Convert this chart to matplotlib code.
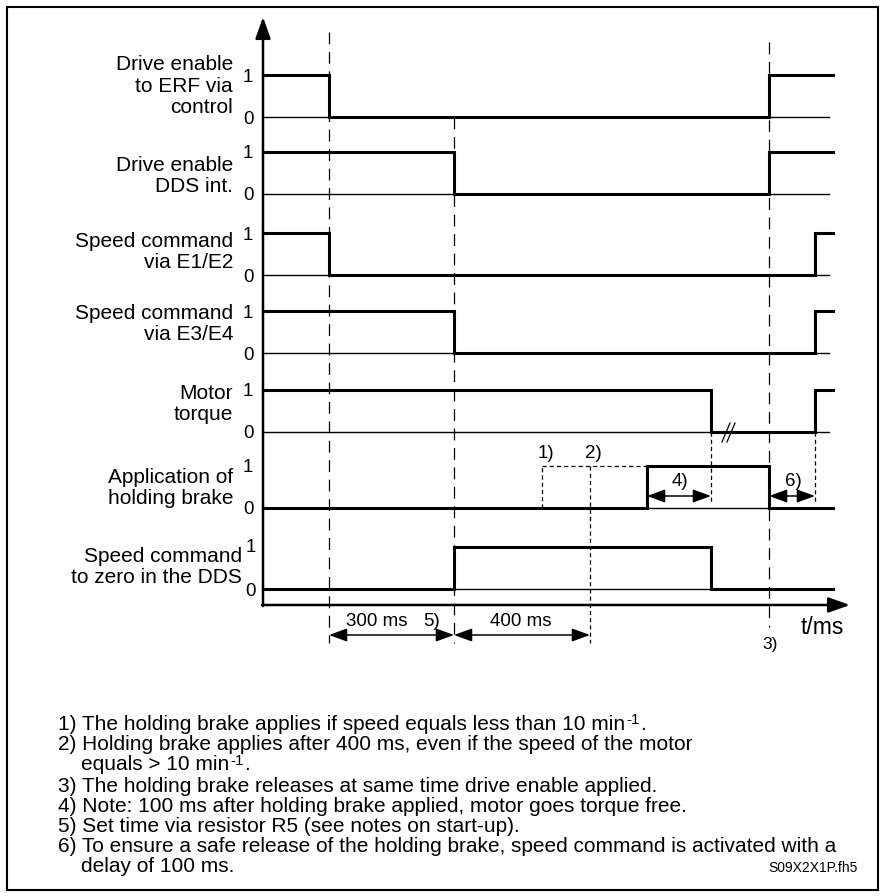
import matplotlib
matplotlib.use("Agg")
import matplotlib.pyplot as plt
from matplotlib.patches import Rectangle

plt.rcParams['font.family'] = ['Liberation Sans', 'DejaVu Sans']
plt.rcParams['lines.scale_dashes'] = False

# schematic time positions of the events (drawing units, 0 = vertical axis)
T_END = 570
T_ENABLE_OFF = 66
T_DDS_OFF = 191
T_NOTE1 = 279
T_NOTE2 = 327
T_BRAKE_ON = 384
T_TORQUE_OFF = 448
T_ENABLE_ON = 506
T_SPEED_ON = 552

row_labels = [
    "Drive enable\nto ERF via\ncontrol",
    "Drive enable\nDDS int.",
    "Speed command\nvia E1/E2",
    "Speed command\nvia E3/E4",
    "Motor\ntorque",
    "Application of\nholding brake",
    "Speed command\nto zero in the DDS",
]

# step signals: edge times and the level held after each edge
edges = [
    [0, T_ENABLE_OFF, T_ENABLE_ON, T_END],
    [0, T_DDS_OFF, T_ENABLE_ON, T_END],
    [0, T_ENABLE_OFF, T_SPEED_ON, T_END],
    [0, T_DDS_OFF, T_SPEED_ON, T_END],
    [0, T_TORQUE_OFF, T_SPEED_ON, T_END],
    [0, T_BRAKE_ON, T_ENABLE_ON, T_END],
    [0, T_DDS_OFF, T_TORQUE_OFF, T_END],
]
levels = [
    [1, 0, 1],
    [1, 0, 1],
    [1, 0, 1],
    [1, 0, 1],
    [1, 0, 1],
    [0, 1, 0],
    [0, 1, 0],
]

# footnote text, optional superscript
footnotes = [
    ("1) The holding brake applies if speed equals less than 10 min", "-1", "."),
    ("2) Holding brake applies after 400 ms, even if the speed of the motor", "", ""),
    ("    equals > 10 min", "-1", "."),
    ("3) The holding brake releases at same time drive enable applied.", "", ""),
    ("4) Note: 100 ms after holding brake applied, motor goes torque free.", "", ""),
    ("5) Set time via resistor R5 (see notes on start-up).", "", ""),
    ("6) To ensure a safe release of the holding brake, speed command is activated with a", "", ""),
    ("    delay of 100 ms.", "", ""),
]

# layout (pixels)
X0 = 263
ZERO_Y = [117, 194, 275, 353, 432, 508, 589]
HIGH = 42
LABEL_Y = [86, 176, 252, 324, 404, 488, 567]
AXIS_Y = 605
DIM_Y = 635
FOOT_Y = [724, 745, 765, 786, 806, 826, 847, 867]
LONG_DASH = (0, (8.5, 5.5))
SHORT_DASH = (0, (3.0, 2.2))


def x(t):
    return X0 + t


def lvl(row, v):
    return ZERO_Y[row] - HIGH * v


fig = plt.figure(figsize=(8.84, 8.96), dpi=100)
ax = fig.add_axes([0, 0, 1, 1])
ax.set_xlim(0, 884)
ax.set_ylim(896, 0)
ax.axis('off')

ax.add_patch(Rectangle((7, 7), 871, 883, fill=False, lw=1.5, ec='black'))

for i in range(7):
    # thin zero line
    ax.plot([x(0), x(T_END - 4)], [ZERO_Y[i], ZERO_Y[i]], color='black', lw=1.0)
    xs, ys = [], []
    for k, v in enumerate(levels[i]):
        xs += [x(edges[i][k]), x(edges[i][k + 1])]
        ys += [lvl(i, v), lvl(i, v)]
    ax.plot(xs, ys, color='black', lw=2.2, solid_joinstyle='miter')
    lab_x = 233 if i < 6 else 242
    ax.text(lab_x, LABEL_Y[i], row_labels[i], ha='right', va='center',
            fontsize=15, linespacing=1.17)
    tx = 248 if i < 6 else 251
    ax.text(tx, lvl(i, 1) + (2 if i < 6 else 0), "1", ha='center', va='center', fontsize=13.5)
    ax.text(tx, ZERO_Y[i] + 2, "0", ha='center', va='center', fontsize=13.5)

# axes with arrow heads
head = '-|>,head_length=0.65,head_width=0.23'
ax.annotate('', xy=(X0, 17), xytext=(X0, AXIS_Y + 1),
            arrowprops=dict(arrowstyle=head, mutation_scale=20, lw=1.8,
                            color='black', shrinkA=0, shrinkB=0))
ax.annotate('', xy=(850, AXIS_Y), xytext=(X0 - 1, AXIS_Y),
            arrowprops=dict(arrowstyle=head, mutation_scale=20, lw=1.8,
                            color='black', shrinkA=0, shrinkB=0))

# long dashed event markers
ax.plot([x(T_ENABLE_OFF)] * 2, [32, 643], color='black', lw=0.9, ls=LONG_DASH)
ax.plot([x(T_DDS_OFF)] * 2, [ZERO_Y[0], 643], color='black', lw=0.9, ls=LONG_DASH)
ax.plot([x(T_ENABLE_ON)] * 2, [42, 627], color='black', lw=0.9, ls=LONG_DASH)

# short dashed helper lines
ax.plot([x(T_NOTE1)] * 2, [ZERO_Y[5], lvl(5, 1)], color='black', lw=0.9, ls=SHORT_DASH)
ax.plot([x(T_NOTE1), x(T_BRAKE_ON)], [lvl(5, 1)] * 2, color='black', lw=0.9, ls=SHORT_DASH)
ax.plot([x(T_NOTE2)] * 2, [lvl(5, 1), 643], color='black', lw=0.9, ls=SHORT_DASH)
ax.plot([x(T_TORQUE_OFF)] * 2, [ZERO_Y[4], 502], color='black', lw=0.9, ls=SHORT_DASH)
ax.plot([x(T_SPEED_ON)] * 2, [ZERO_Y[4], 502], color='black', lw=0.9, ls=SHORT_DASH)

# break mark on motor torque
for dx in (0, 5):
    ax.plot([x(T_TORQUE_OFF) + 11 + dx, x(T_TORQUE_OFF) + 19 + dx],
            [ZERO_Y[4] + 10, ZERO_Y[4] - 9], color='black', lw=0.9)


def dim(t0, t1, y):
    ax.annotate('', xy=(x(t1), y), xytext=(x(t0), y),
                arrowprops=dict(arrowstyle='<|-|>,head_length=0.55,head_width=0.2',
                                mutation_scale=20, lw=1.1, color='black',
                                shrinkA=0, shrinkB=0))


dim(T_BRAKE_ON, T_TORQUE_OFF, 496)
dim(T_ENABLE_ON, T_SPEED_ON, 496)
dim(T_ENABLE_OFF, T_DDS_OFF, DIM_Y)
dim(T_DDS_OFF, T_NOTE2, DIM_Y)

ax.text(x(T_NOTE1) + 4, 453, "1)", ha='center', va='center', fontsize=13.5)
ax.text(x(T_NOTE2) + 3, 453, "2)", ha='center', va='center', fontsize=13.5)
ax.text((x(T_BRAKE_ON) + x(T_TORQUE_OFF)) / 2 + 1, 482, "4)", ha='center', va='center', fontsize=13.5)
ax.text((x(T_ENABLE_ON) + x(T_SPEED_ON)) / 2 + 1, 482, "6)", ha='center', va='center', fontsize=13.5)
ax.text(377, 622, "300 ms", ha='center', va='center', fontsize=13.5)
ax.text(432, 622, "5)", ha='center', va='center', fontsize=13.5)
ax.text((x(T_DDS_OFF) + x(T_NOTE2)) / 2 - 1, 622, "400 ms", ha='center', va='center', fontsize=13.5)
ax.text(822, 628, "t/ms", ha='center', va='center', fontsize=16.5)
ax.text(x(T_ENABLE_ON) + 1, 645, "3)", ha='center', va='center', fontsize=12.5)

fig.canvas.draw()
renderer = fig.canvas.get_renderer()
inv = ax.transData.inverted()
for (main, sup, tail), yy in zip(footnotes, FOOT_Y):
    t = ax.text(58, yy, main, ha='left', va='center', fontsize=15)
    if sup:
        bb = t.get_window_extent(renderer)
        x_end = inv.transform((bb.x1, bb.y0))[0]
        s = ax.text(x_end + 1, yy - 4, sup, ha='left', va='center', fontsize=11)
        bb2 = s.get_window_extent(renderer)
        x_end2 = inv.transform((bb2.x1, bb2.y0))[0]
        ax.text(x_end2, yy, tail, ha='left', va='center', fontsize=15)
ax.text(858, 868, "S09X2X1P.fh5", ha='right', va='center', fontsize=10)

fig.savefig("out.png", dpi=100)
